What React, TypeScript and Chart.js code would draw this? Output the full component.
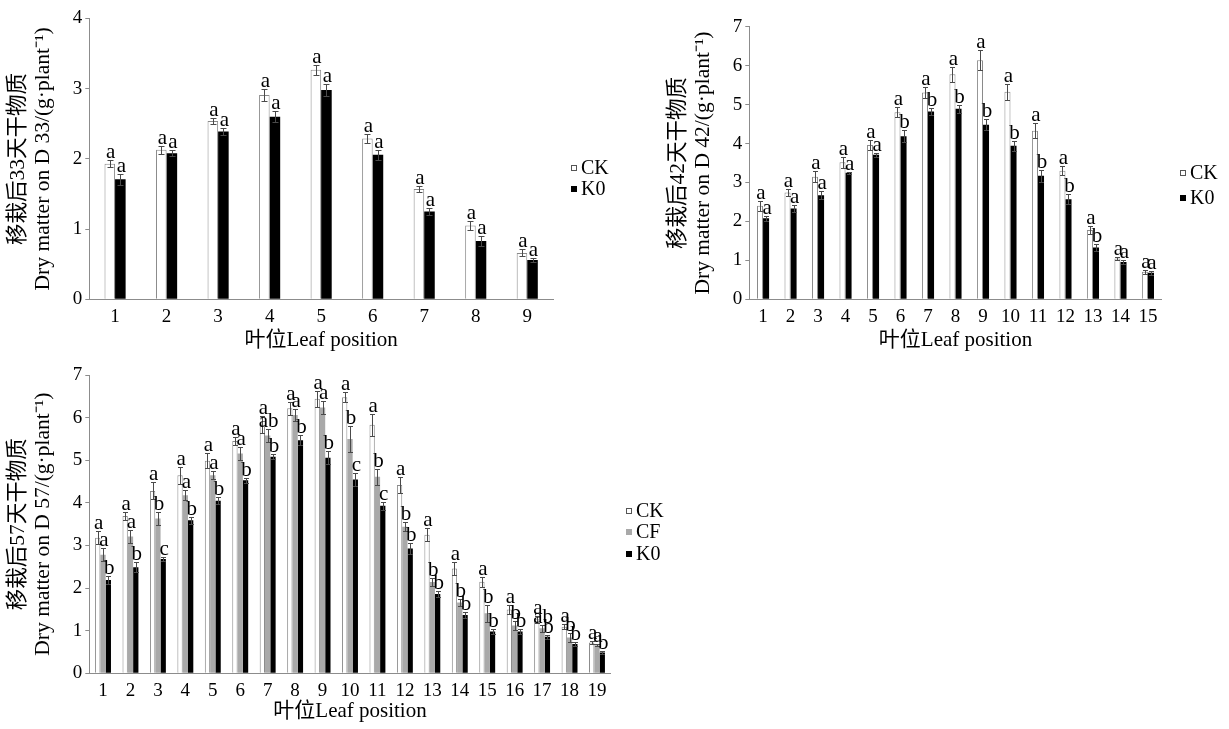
import React, { useEffect, useRef } from 'react';
import { Chart, registerables } from 'chart.js';

Chart.register(...registerables);

const FONT = "'Liberation Serif', 'Times New Roman', 'Noto Sans CJK SC', serif";

// ---------- Panel 1 (D 33) ----------
const p1Categories = ['1', '2', '3', '4', '5', '6', '7', '8', '9'];
const p1CK = [1.93, 2.13, 2.54, 2.91, 3.27, 2.29, 1.57, 1.05, 0.66];
const p1K0 = [1.71, 2.08, 2.39, 2.6, 2.98, 2.06, 1.25, 0.83, 0.56];
const p1CKErr = [0.05, 0.06, 0.04, 0.08, 0.07, 0.06, 0.04, 0.06, 0.05];
const p1K0Err = [0.08, 0.04, 0.05, 0.08, 0.08, 0.07, 0.05, 0.07, 0.03];
const p1CKSig = ['a', 'a', 'a', 'a', 'a', 'a', 'a', 'a', 'a'];
const p1K0Sig = ['a', 'a', 'a', 'a', 'a', 'a', 'a', 'a', 'a'];
const p1YTitle = ['移栽后33天干物质', 'Dry matter on D 33/(g·plant⁻¹)'];

// ---------- Panel 2 (D 42) ----------
const p2Categories = ['1', '2', '3', '4', '5', '6', '7', '8', '9', '10', '11', '12', '13', '14', '15'];
const p2CK = [2.4, 2.74, 3.15, 3.52, 3.96, 4.8, 5.31, 5.78, 6.14, 5.33, 4.33, 3.3, 1.78, 1.05, 0.71];
const p2K0 = [2.08, 2.33, 2.67, 3.25, 3.71, 4.19, 4.82, 4.89, 4.48, 3.94, 3.17, 2.57, 1.33, 0.96, 0.68];
const p2CKErr = [0.12, 0.1, 0.15, 0.14, 0.12, 0.13, 0.13, 0.19, 0.26, 0.2, 0.19, 0.12, 0.1, 0.04, 0.05];
const p2K0Err = [0.07, 0.08, 0.1, 0.03, 0.05, 0.16, 0.1, 0.1, 0.14, 0.13, 0.15, 0.13, 0.09, 0.06, 0.05];
const p2CKSig = ['a', 'a', 'a', 'a', 'a', 'a', 'a', 'a', 'a', 'a', 'a', 'a', 'a', 'a', 'a'];
const p2K0Sig = ['a', 'a', 'a', 'a', 'a', 'b', 'b', 'b', 'b', 'b', 'b', 'b', 'b', 'a', 'a'];
const p2YTitle = ['移栽后42天干物质', 'Dry matter on D 42/(g·plant⁻¹)'];

// ---------- Panel 3 (D 57) ----------
const p3Categories = ['1', '2', '3', '4', '5', '6', '7', '8', '9', '10', '11', '12', '13', '14', '15', '16', '17', '18', '19'];
const p3CK = [3.18, 3.69, 4.28, 4.65, 4.99, 5.45, 5.83, 6.22, 6.44, 6.48, 5.83, 4.42, 3.25, 2.46, 2.15, 1.5, 1.27, 1.09, 0.72];
const p3CF = [2.78, 3.21, 3.63, 4.18, 4.65, 5.16, 5.58, 6.06, 6.24, 5.5, 4.61, 3.44, 2.14, 1.66, 1.41, 1.12, 1.06, 0.84, 0.66];
const p3K0 = [2.19, 2.49, 2.68, 3.59, 4.05, 4.53, 5.08, 5.47, 5.06, 4.55, 3.93, 2.93, 1.86, 1.37, 0.98, 0.98, 0.86, 0.69, 0.49];
const p3CKErr = [0.15, 0.1, 0.2, 0.2, 0.18, 0.1, 0.2, 0.15, 0.18, 0.12, 0.25, 0.18, 0.15, 0.15, 0.12, 0.1, 0.08, 0.06, 0.04];
const p3CFErr = [0.15, 0.15, 0.15, 0.12, 0.1, 0.15, 0.15, 0.15, 0.15, 0.3, 0.18, 0.1, 0.1, 0.08, 0.2, 0.1, 0.08, 0.1, 0.03];
const p3K0Err = [0.1, 0.12, 0.05, 0.08, 0.08, 0.06, 0.06, 0.12, 0.15, 0.15, 0.1, 0.12, 0.06, 0.08, 0.06, 0.06, 0.05, 0.04, 0.04];
const p3CKSig = ['a', 'a', 'a', 'a', 'a', 'a', 'a', 'a', 'a', 'a', 'a', 'a', 'a', 'a', 'a', 'a', 'a', 'a', 'a'];
const p3CFSig = ['a', 'a', 'b', 'a', 'a', 'a', 'ab', 'a', 'a', 'b', 'b', 'b', 'b', 'b', 'b', 'b', 'ab', 'b', 'a'];
const p3K0Sig = ['b', 'b', 'c', 'b', 'b', 'b', 'b', 'b', 'b', 'c', 'c', 'b', 'b', 'b', 'b', 'b', 'b', 'b', 'b'];
const p3YTitle = ['移栽后57天干物质', 'Dry matter on D 57/(g·plant⁻¹)'];

const xTitle = '叶位Leaf position';

const STYLE_CK = { backgroundColor: '#ffffff', borderColor: '#8a8a8a', borderWidth: 1 };
const STYLE_CF = { backgroundColor: '#a9a9a9', borderColor: '#a9a9a9', borderWidth: 0 };
const STYLE_K0 = { backgroundColor: '#000000', borderColor: '#000000', borderWidth: 0 };

const errLetterPlugin = {
  id: 'errLetters',
  afterDatasetsDraw(chart: any, _args: any, opts: any) {
    const ctx = chart.ctx;
    const ys = chart.scales.y;
    const cap = opts.cap || 3;
    chart.data.datasets.forEach((ds: any, i: number) => {
      const meta = chart.getDatasetMeta(i);
      meta.data.forEach((el: any, j: number) => {
        const v = ds.data[j];
        const e = ds.errors[j];
        const yt = Math.round(ys.getPixelForValue(v + e)) + 0.5;
        const yb = Math.round(ys.getPixelForValue(v - e)) + 0.5;
        const x = Math.round(el.x) + 0.5;
        ctx.save();
        ctx.strokeStyle = '#4a4a4a';
        ctx.lineWidth = 1;
        ctx.beginPath();
        ctx.moveTo(x, yt);
        ctx.lineTo(x, yb);
        ctx.moveTo(x - cap, yt);
        ctx.lineTo(x + cap, yt);
        ctx.moveTo(x - cap, yb);
        ctx.lineTo(x + cap, yb);
        ctx.stroke();
        ctx.fillStyle = '#000';
        ctx.font = `${opts.letterSize || 20}px ${FONT}`;
        ctx.textAlign = 'center';
        ctx.textBaseline = 'alphabetic';
        ctx.fillText(ds.sig[j], el.x + 1, yt - 3);
        ctx.restore();
      });
    });
  },
};

const legendPlugin = {
  id: 'sideLegend',
  afterDraw(chart: any, _args: any, opts: any) {
    const ctx = chart.ctx;
    ctx.save();
    chart.data.datasets.forEach((ds: any, i: number) => {
      const cy = opts.y + i * opts.spacing;
      const sx = opts.x;
      const s = 6;
      ctx.fillStyle = ds.backgroundColor;
      ctx.fillRect(sx, Math.round(cy - s / 2), s, s);
      if (ds.backgroundColor === '#ffffff') {
        ctx.strokeStyle = '#555';
        ctx.lineWidth = 1;
        ctx.strokeRect(sx + 0.5, Math.round(cy - s / 2) + 0.5, s - 1, s - 1);
      }
      ctx.fillStyle = '#000';
      ctx.font = `${opts.size}px ${FONT}`;
      ctx.textAlign = 'left';
      ctx.textBaseline = 'middle';
      ctx.fillText(ds.label, sx + 10, cy + 1);
    });
    ctx.restore();
  },
};

type PanelSpec = {
  categories: string[];
  datasets: any[];
  yMax: number;
  yTitle: string[];
  yWidth: number;
  xHeight: number;
  padTop: number;
  padRight: number;
  catPct: number;
  xTitlePadBottom: number;
  legend: { x: number; y: number; spacing: number; size: number };
  cap: number;
};

function buildConfig(p: PanelSpec): any {
  return {
    type: 'bar',
    data: {
      labels: p.categories,
      datasets: p.datasets.map((d) => ({
        ...d,
        categoryPercentage: p.catPct,
        barPercentage: 1,
      })),
    },
    options: {
      animation: false,
      responsive: false,
      layout: { padding: { top: p.padTop, right: p.padRight, bottom: 0, left: 0 } },
      plugins: {
        legend: { display: false },
        tooltip: { enabled: false },
        errLetters: { cap: p.cap, letterSize: 21 },
        sideLegend: p.legend,
      },
      scales: {
        x: {
          type: 'category',
          grid: { display: false },
          border: { display: true, color: '#8c8c8c', width: 1 },
          ticks: { color: '#000', font: { family: FONT, size: 19 }, padding: -2, maxRotation: 0, autoSkip: false },
          title: {
            display: true,
            text: xTitle,
            color: '#000',
            font: { family: FONT, size: 21, lineHeight: 1.25 },
            padding: { top: 0, bottom: p.xTitlePadBottom },
          },
          afterFit: (scale: any) => {
            scale.height = p.xHeight;
          },
        },
        y: {
          min: 0,
          max: p.yMax,
          grid: { display: true, drawOnChartArea: false, drawTicks: true, tickLength: 4, color: '#8c8c8c' },
          border: { display: true, color: '#8c8c8c', width: 1 },
          ticks: { stepSize: 1, color: '#000', font: { family: FONT, size: 19 }, padding: 3 },
          title: {
            display: true,
            text: p.yTitle,
            color: '#000',
            font: { family: FONT, size: 21.5, lineHeight: 1.163 },
            padding: { top: 5.5, bottom: 0 },
          },
          afterFit: (scale: any) => {
            scale.width = p.yWidth;
          },
        },
      },
    },
    plugins: [errLetterPlugin, legendPlugin],
  };
}

function Panel(props: { spec: PanelSpec; left: number; top: number; width: number; height: number }) {
  const ref = useRef<HTMLCanvasElement | null>(null);
  useEffect(() => {
    if (!ref.current) return;
    const chart = new Chart(ref.current, buildConfig(props.spec));
    return () => chart.destroy();
  }, []);
  return (
    <canvas
      ref={ref}
      width={props.width}
      height={props.height}
      style={{ position: 'absolute', left: props.left, top: props.top, width: props.width, height: props.height }}
    />
  );
}

const panel1: PanelSpec = {
  categories: p1Categories,
  datasets: [
    { label: 'CK', data: p1CK, errors: p1CKErr, sig: p1CKSig, ...STYLE_CK },
    { label: 'K0', data: p1K0, errors: p1K0Err, sig: p1K0Sig, ...STYLE_K0 },
  ],
  yMax: 4,
  yTitle: p1YTitle,
  yWidth: 89.3,
  xHeight: 60.7,
  padTop: 18.5,
  padRight: 67,
  catPct: 0.41,
  xTitlePadBottom: 6,
  legend: { x: 571, y: 168, spacing: 21, size: 20 },
  cap: 3,
};

const panel2: PanelSpec = {
  categories: p2Categories,
  datasets: [
    { label: 'CK', data: p2CK, errors: p2CKErr, sig: p2CKSig, ...STYLE_CK },
    { label: 'K0', data: p2K0, errors: p2K0Err, sig: p2K0Sig, ...STYLE_K0 },
  ],
  yMax: 7,
  yTitle: p2YTitle,
  yWidth: 89.3,
  xHeight: 60.7,
  padTop: 26.7,
  padRight: 67.3,
  catPct: 0.44,
  xTitlePadBottom: 6,
  legend: { x: 520, y: 173, spacing: 25, size: 20 },
  cap: 2.5,
};

const panel3: PanelSpec = {
  categories: p3Categories,
  datasets: [
    { label: 'CK', data: p3CK, errors: p3CKErr, sig: p3CKSig, ...STYLE_CK },
    { label: 'CF', data: p3CF, errors: p3CFErr, sig: p3CFSig, ...STYLE_CF },
    { label: 'K0', data: p3K0, errors: p3K0Err, sig: p3K0Sig, ...STYLE_K0 },
  ],
  yMax: 7,
  yTitle: p3YTitle,
  yWidth: 89.3,
  xHeight: 55.7,
  padTop: 15,
  padRight: 89.3,
  catPct: 0.58,
  xTitlePadBottom: 4.5,
  legend: { x: 626, y: 150.7, spacing: 21.5, size: 20 },
  cap: 2.5,
};

export default function App() {
  return (
    <div style={{ position: 'absolute', left: 0, top: 0, width: 1229, height: 729, background: '#fff', overflow: 'hidden' }}>
      <Panel spec={panel1} left={0} top={0} width={620} height={360} />
      <Panel spec={panel2} left={660} top={0} width={569} height={360} />
      <Panel spec={panel3} left={0} top={360} width={700} height={369} />
    </div>
  );
}
